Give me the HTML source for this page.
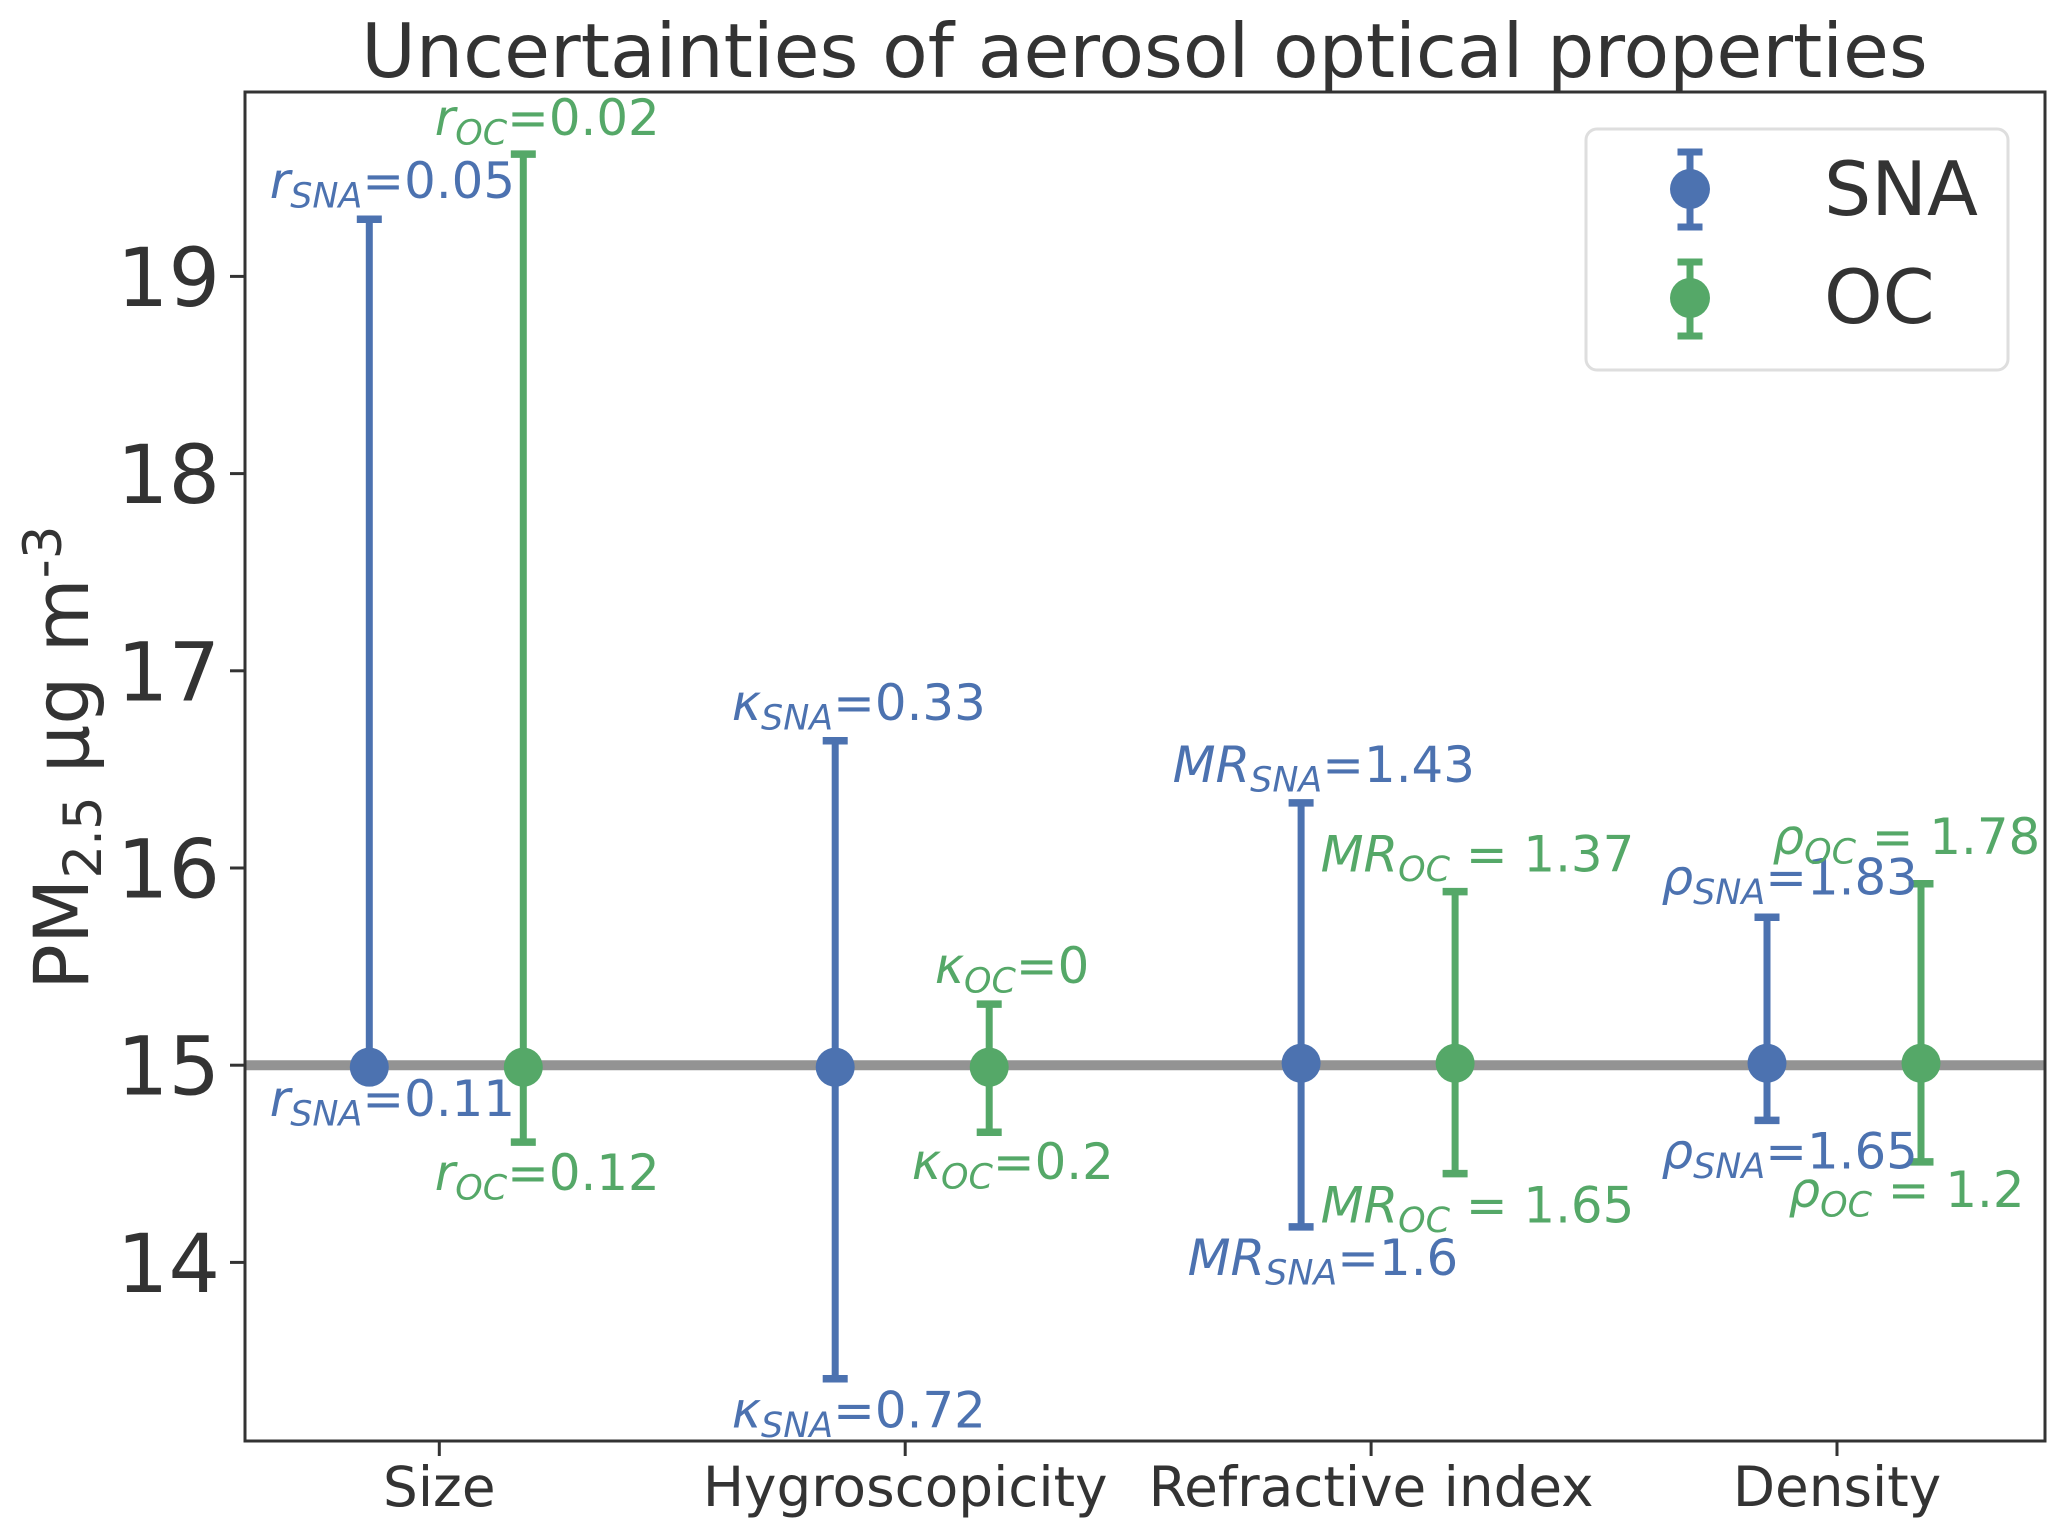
<!DOCTYPE html>
<html lang="en">
<head>
<meta charset="utf-8">
<title>Uncertainties of aerosol optical properties</title>
<style>
  html, body { margin: 0; padding: 0; background: #fff; }
  svg { display: block; }
  text { font-family: "DejaVu Sans", "Liberation Sans", sans-serif; fill: #333; }
</style>
</head>
<body>
<svg id="chart" xmlns="http://www.w3.org/2000/svg" width="2067" height="1538" viewBox="0 0 2067 1538">
  <rect x="0" y="0" width="2067" height="1538" fill="#ffffff"/>
  <text x="1144.5" y="77" text-anchor="middle" font-size="74.6">Uncertainties of aerosol optical properties</text>
  <text transform="translate(88,990) rotate(-90)" font-size="76">PM<tspan font-size="53" dy="13" letter-spacing="-1">2.5</tspan><tspan dy="-13"> µg m</tspan><tspan font-size="53" dy="-27">-3</tspan></text>
  <g id="axis-layer"></g>
  <g id="marks-layer"></g>
  <g id="notes-layer"></g>
  <rect x="245" y="92" width="1800" height="1349" fill="none" stroke="#333333" stroke-width="3"/>
  <g>
    <rect x="1586" y="129" width="422" height="241" rx="11" ry="11" fill="#ffffff" stroke="#dedede" stroke-width="3"/>
    <g>
      <path d="M1690 152V227M1677.5 152H1702.5M1677.5 227H1702.5" stroke="#4C72B0" stroke-width="7" fill="none"/>
      <circle cx="1690" cy="189" r="20" fill="#4C72B0"/>
      <text x="1824" y="215" font-size="74.5">SNA</text>
    </g>
    <g>
      <path d="M1690 262V336M1677.5 262H1702.5M1677.5 336H1702.5" stroke="#55A868" stroke-width="7" fill="none"/>
      <circle cx="1690" cy="298" r="20" fill="#55A868"/>
      <text x="1824" y="323" font-size="74.5">OC</text>
    </g>
  </g>
</svg>
<script>
// ---- chart data ----
const categories = ["Size", "Hygroscopicity", "Refractive index", "Density"];
const yTicks = [14, 15, 16, 17, 18, 19];
const referenceValue = 15;
const snaCenter = [14.99, 14.99, 15.01, 15.01];
const snaUpper = [19.29, 16.645, 16.33, 15.75];
const snaLower = [14.98, 13.41, 14.18, 14.72];
const ocCenter = [14.99, 14.99, 15.01, 15.01];
const ocUpper = [19.62, 15.31, 15.88, 15.92];
const ocLower = [14.61, 14.66, 14.45, 14.51];

// ---- axis functions ----
function xCat(i) { return 439.3 + i * 465.9; }
function yVal(v) { return 1065.2 - (v - 15) * 197.2; }

const NS = "http://www.w3.org/2000/svg";
function mk(tag, attrs, parent) {
  const el = document.createElementNS(NS, tag);
  for (const k in attrs) el.setAttribute(k, attrs[k]);
  parent.appendChild(el);
  return el;
}

const axisLayer = document.getElementById("axis-layer");
const marksLayer = document.getElementById("marks-layer");
const notesLayer = document.getElementById("notes-layer");

// ---- y ticks ----
yTicks.forEach(function (t) {
  const tick = mk("line", { x1: 230, x2: 245, y1: yVal(t), y2: yVal(t), stroke: "#333333", "stroke-width": 3 }, axisLayer);
  
  
  const label = mk("text", { x: 220, y: yVal(t) + 29.5, "text-anchor": "end", "font-size": 81 }, axisLayer);
  label.textContent = String(t);
  
  
});

// ---- x ticks ----
categories.forEach(function (c, i) {
  const tick = mk("line", { x1: xCat(i), x2: xCat(i), y1: 1441, y2: 1456, stroke: "#333333", "stroke-width": 3 }, axisLayer);
  
  
  const label = mk("text", { x: xCat(i), y: 1506, "text-anchor": "middle", "font-size": 54.8 }, axisLayer);
  label.textContent = c;
  
  
});

// ---- reference line ----
const refLine = mk("line", { x1: 245, x2: 2045, y1: yVal(referenceValue), y2: yVal(referenceValue), stroke: "#939393", "stroke-width": 10 }, marksLayer);



// ---- error bars ----
const SNA_SHIFT = -70;
const OC_SHIFT = 84;
function drawSeries(key, color, shift, center, upper, lower) {
  categories.forEach(function (c, i) {
    const x = xCat(i) + shift;
    const g = mk("g", {}, marksLayer);
    
    
    const yu = yVal(upper[i]), yl = yVal(lower[i]);
    const stem = mk("line", { x1: x, x2: x, y1: yu, y2: yl, stroke: color, "stroke-width": 7 }, g);
    
    
    [yu, yl].forEach(function (yy) {
      const cap = mk("line", { x1: x - 12.5, x2: x + 12.5, y1: yy, y2: yy, stroke: color, "stroke-width": 7.5 }, g);
      
      
    });
    const dot = mk("circle", { cx: x, cy: yVal(center[i]), r: 19.5, fill: color }, g);
    
    
  });
}
drawSeries("sna", "#4C72B0", SNA_SHIFT, snaCenter, snaUpper, snaLower);
drawSeries("oc", "#55A868", OC_SHIFT, ocCenter, ocUpper, ocLower);

// ---- annotations: printed text, anchored to the end of each error bar ----
function note(series, i, end, dx, dy, symbol, tail) {
  const isSna = series === "SNA";
  const color = isSna ? "#4C72B0" : "#55A868";
  const arr = isSna ? (end === "u" ? snaUpper : snaLower) : (end === "u" ? ocUpper : ocLower);
  const x = xCat(i) + (isSna ? SNA_SHIFT : OC_SHIFT) + dx - 1.5;
  const y = yVal(arr[i]) + dy;
  const t = mk("text", { x: x, y: y, "font-size": 49.8, style: "fill:" + color }, notesLayer);
  
  
  const a = mk("tspan", { "font-style": "italic" }, t);
  a.textContent = symbol;
  const b = mk("tspan", { "font-style": "italic", "font-size": 34.9, dy: 9.5 }, t);
  b.textContent = series;
  const c = mk("tspan", { dy: -9.5 }, t);
  c.textContent = tail;
  c.setAttribute("xml:space", "preserve");
  t.setAttribute("xml:space", "preserve");
}
note("SNA", 0, "u", -98, -21, "r", "=0.05");
note("OC", 0, "u", -87, -19, "r", "=0.02");
note("SNA", 0, "l", -98, 47, "r", "=0.11");
note("OC", 0, "l", -87, 48, "r", "=0.12");
note("SNA", 1, "u", -102, -21, "κ", "=0.33");
note("SNA", 1, "l", -102, 49, "κ", "=0.72");
note("OC", 1, "u", -53, -21, "κ", "=0");
note("OC", 1, "l", -76, 47, "κ", "=0.2");
note("SNA", 2, "u", -127, -21, "MR", "=1.43");
note("SNA", 2, "l", -112, 48, "MR", "=1.6");
note("OC", 2, "u", -133, -20, "MR", " = 1.37");
note("OC", 2, "l", -133, 49, "MR", " = 1.65");
note("SNA", 3, "u", -104, -23, "ρ", "=1.83");
note("SNA", 3, "l", -104, 48, "ρ", "=1.65");
note("OC", 3, "u", -147, -30, "ρ", " = 1.78");
note("OC", 3, "l", -131, 45, "ρ", " = 1.2");
</script>
</body>
</html>
